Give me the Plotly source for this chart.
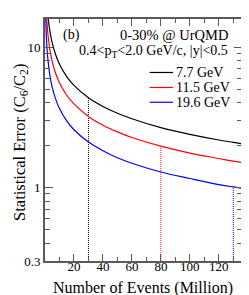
import plotly.graph_objects as go

# Number of events (million) sampled along the curves
events = [0.5, 1, 1.5, 2, 3, 4, 5, 7, 10, 15, 20, 30, 40, 50, 60, 80, 100, 120, 130, 136]
err_77 = [33.8, 23.9, 19.5, 16.9, 13.8, 11.95, 10.7, 9.03, 7.56, 6.17, 5.34, 4.36, 3.78, 3.38, 3.09, 2.67, 2.39, 2.18, 2.10, 2.05]
err_115 = [24.9, 17.6, 14.4, 12.4, 10.2, 8.8, 7.87, 6.65, 5.57, 4.54, 3.94, 3.21, 2.78, 2.49, 2.27, 1.97, 1.76, 1.61, 1.54, 1.51]
err_196 = [16.3, 11.55, 9.43, 8.17, 6.67, 5.78, 5.17, 4.37, 3.65, 2.98, 2.58, 2.11, 1.83, 1.63, 1.49, 1.29, 1.16, 1.05, 1.01, 0.99]

series_names = ["7.7 GeV", "11.5 GeV", "19.6 GeV"]
series_colors = ["black", "red", "blue"]
series_values = [err_77, err_115, err_196]
needed_events = [30, 80, 130]

x_ticks = [20, 40, 60, 80, 100, 120]
x_minor = [10, 30, 50, 70, 90, 110, 130]
y_ticks = [0.3, 1, 10]
y_minor = [0.4, 0.5, 0.6, 0.7, 0.8, 0.9, 2, 3, 4, 5, 6, 7, 8, 9]

FONT = "Liberation Serif"
AXC = "#5a5a5a"

fig = go.Figure()
for name, col, vals, ne in zip(series_names, series_colors, series_values, needed_events):
    fig.add_trace(go.Scatter(x=events, y=vals, mode="lines", line=dict(color=col, width=1.2, shape="spline"),
                             name=name, showlegend=False, cliponaxis=True))
    yv = vals[events.index(ne)]
    fig.add_trace(go.Scatter(x=[ne, ne], y=[y_ticks[0], yv], mode="lines",
                             line=dict(color=col, width=1, dash="1px,1px"), showlegend=False))

fig.update_layout(
    width=249, height=295,
    margin=dict(l=37, r=15, t=9, b=42),
    paper_bgcolor="white", plot_bgcolor="white",
    font=dict(family=FONT, color="black", size=13),
    xaxis=dict(range=[0, 136], tickvals=x_ticks, ticks="inside", ticklen=7, tickwidth=1.2, tickcolor=AXC,
               showline=True, linecolor=AXC, linewidth=2, mirror="allticks", showgrid=False, zeroline=False,
               tickfont=dict(size=13, family=FONT), ticklabelstandoff=-8,
               minor=dict(tickmode="array", tickvals=x_minor, ticks="inside", ticklen=4,
                          tickwidth=1.2, tickcolor=AXC)),
    yaxis=dict(type="log", range=[-0.523, 1.2], tickvals=y_ticks, ticktext=["0.3", "1", "10"],
               ticks="inside", ticklen=8, tickwidth=1.2, tickcolor=AXC,
               showline=True, linecolor=AXC, linewidth=2, mirror="allticks", showgrid=False, zeroline=False,
               tickfont=dict(size=13, family=FONT),
               minor=dict(tickmode="array", tickvals=y_minor, ticks="inside", ticklen=5, tickwidth=1.2, tickcolor=AXC)),
)

# axis titles
fig.add_annotation(x=0.495, y=-0.111, xref="paper", yref="paper", text="Number of Events (Million)",
                   showarrow=False, xanchor="center", yanchor="middle", font=dict(size=16, family=FONT))
fig.add_annotation(x=-0.127, y=0.492, xref="paper", yref="paper",
                   text="Statistical Error (C<sub>6</sub>/C<sub>2</sub>)", textangle=-90,
                   showarrow=False, xanchor="center", yanchor="middle", font=dict(size=16.5, family=FONT))

fig.add_annotation(x=0.083, y=0.934, xref="paper", yref="paper", text="(b)", showarrow=False,
                   xanchor="left", yanchor="middle", font=dict(size=14, family=FONT))
fig.add_annotation(x=0.937, y=0.934, xref="paper", yref="paper", text="0-30% @ UrQMD", showarrow=False,
                   xanchor="right", yanchor="middle", font=dict(size=14.5, family=FONT))
fig.add_annotation(x=0.937, y=0.865, xref="paper", yref="paper",
                   text="0.4&lt;p<sub>T</sub>&lt;2.0 GeV/c, |y|&lt;0.5", showarrow=False,
                   xanchor="right", yanchor="middle", font=dict(size=14, family=FONT))

leg_y = [0.779, 0.717, 0.656]
for name, col, ly in zip(series_names, series_colors, leg_y):
    fig.add_shape(type="line", xref="paper", yref="paper", x0=0.531, x1=0.65, y0=ly, y1=ly,
                  line=dict(color=col, width=1.2))
    fig.add_annotation(x=0.655, y=ly, xref="paper", yref="paper", text=name, showarrow=False,
                       xanchor="left", yanchor="middle", font=dict(size=14, family=FONT))

fig.write_html("out.html")
